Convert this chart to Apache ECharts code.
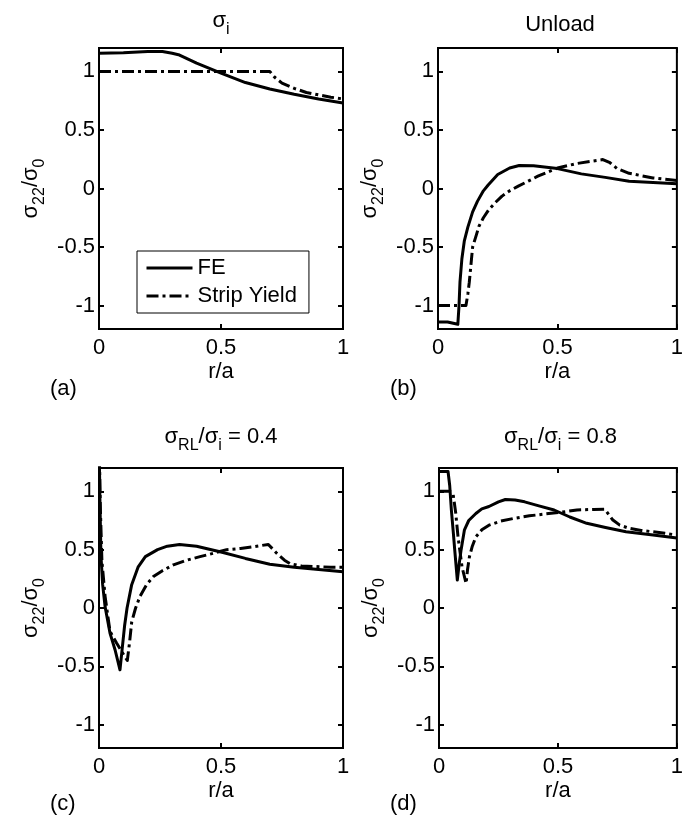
<!DOCTYPE html>
<html><head><meta charset="utf-8">
<script src="https://cdn.jsdelivr.net/npm/echarts@6/dist/echarts.min.js"></script>
<style>html,body{margin:0;padding:0;background:#fff}#c{width:686px;height:818px}</style>
</head><body><div id="c"></div>
<script>
// ---- data (r/a, sigma22/sigma0) ----
const X_TICKS = [0, 0.5, 1];
const Y_TICKS = [-1, -0.5, 0, 0.5, 1];

const A_FE_X = [0, 0.1, 0.2, 0.26, 0.3, 0.33, 0.4, 0.5, 0.6, 0.7, 0.8, 0.9, 1.0];
const A_FE_Y = [1.155, 1.16, 1.17, 1.17, 1.155, 1.14, 1.07, 0.985, 0.905, 0.85, 0.805, 0.765, 0.73];
const A_SY_X = [0, 0.7, 0.72, 0.75, 0.8, 0.85, 0.9, 0.95, 1.0];
const A_SY_Y = [1, 1, 0.95, 0.9, 0.855, 0.82, 0.8, 0.78, 0.765];

const B_FE_X = [0, 0.04, 0.083, 0.088, 0.092, 0.1, 0.11, 0.125, 0.145, 0.165, 0.19, 0.21, 0.25, 0.3, 0.34, 0.4, 0.5, 0.6, 0.7, 0.8, 0.9, 1.0];
const B_FE_Y = [-1.14, -1.14, -1.16, -1.0, -0.8, -0.6, -0.45, -0.33, -0.2, -0.11, -0.02, 0.03, 0.12, 0.175, 0.197, 0.195, 0.17, 0.125, 0.095, 0.062, 0.052, 0.04];
const B_SY_X = [0, 0.117, 0.125, 0.131, 0.138, 0.145, 0.16, 0.172, 0.19, 0.213, 0.24, 0.268, 0.3, 0.336, 0.38, 0.418, 0.5, 0.58, 0.65, 0.69, 0.72, 0.75, 0.8, 0.9, 1.0];
const B_SY_Y = [-1.0, -1.0, -0.9, -0.8, -0.65, -0.5, -0.4, -0.32, -0.25, -0.18, -0.12, -0.065, -0.02, 0.02, 0.065, 0.105, 0.175, 0.213, 0.235, 0.247, 0.22, 0.17, 0.13, 0.09, 0.068];

const C_FE_X = [0, 0.004, 0.008, 0.015, 0.025, 0.045, 0.066, 0.086, 0.095, 0.105, 0.115, 0.134, 0.16, 0.19, 0.24, 0.28, 0.33, 0.4, 0.5, 0.6, 0.7, 0.8, 0.9, 1.0];
const C_FE_Y = [1.5, 0.9, 0.45, 0.2, 0.01, -0.215, -0.36, -0.53, -0.35, -0.15, 0.0, 0.2, 0.35, 0.44, 0.5, 0.53, 0.545, 0.53, 0.48, 0.425, 0.375, 0.35, 0.33, 0.31];
const C_SY_X = [0, 0.005, 0.012, 0.025, 0.045, 0.072, 0.095, 0.116, 0.125, 0.134, 0.15, 0.168, 0.195, 0.223, 0.26, 0.305, 0.36, 0.414, 0.47, 0.523, 0.58, 0.632, 0.694, 0.728, 0.76, 0.783, 0.83, 0.89, 0.95, 1.0];
const C_SY_Y = [1.5, 0.9, 0.4, 0.1, -0.2, -0.3, -0.38, -0.45, -0.3, -0.12, 0.0, 0.1, 0.2, 0.27, 0.32, 0.37, 0.41, 0.44, 0.47, 0.5, 0.51, 0.525, 0.545, 0.47, 0.41, 0.38, 0.36, 0.355, 0.35, 0.35];

const D_FE_X = [0, 0.038, 0.045, 0.052, 0.06, 0.066, 0.077, 0.085, 0.093, 0.107, 0.125, 0.155, 0.18, 0.21, 0.25, 0.279, 0.32, 0.36, 0.42, 0.484, 0.55, 0.621, 0.7, 0.786, 0.9, 1.0];
const D_FE_Y = [1.17, 1.17, 1.05, 0.84, 0.65, 0.5, 0.24, 0.38, 0.5, 0.67, 0.75, 0.81, 0.85, 0.87, 0.91, 0.93, 0.925, 0.91, 0.875, 0.84, 0.78, 0.726, 0.69, 0.654, 0.625, 0.60];
const D_SY_X = [0, 0.03, 0.045, 0.059, 0.07, 0.08, 0.097, 0.114, 0.12, 0.128, 0.14, 0.155, 0.18, 0.21, 0.26, 0.32, 0.38, 0.443, 0.51, 0.58, 0.65, 0.697, 0.731, 0.76, 0.8, 0.85, 0.896, 0.95, 1.0];
const D_SY_Y = [1.0, 1.0, 1.0, 0.98, 0.82, 0.61, 0.35, 0.21, 0.33, 0.44, 0.53, 0.61, 0.67, 0.71, 0.745, 0.77, 0.79, 0.805, 0.82, 0.84, 0.845, 0.846, 0.754, 0.71, 0.683, 0.665, 0.654, 0.64, 0.625];

const TITLES = ['{n|σ}{s|i}', '{n|Unload}', '{n|σ}{s|RL}{n|/σ}{s|i}{n| = 0.4}', '{n|σ}{s|RL}{n|/σ}{s|i}{n| = 0.8}'];
const PANEL_LABELS = ['(a)', '(b)', '(c)', '(d)'];
const Y_NAME = '{n|σ}{s|22}{n|/σ}{s|0}';
const X_NAME = 'r/a';
const SERIES_NAMES = ['FE', 'Strip Yield'];

// ---- layout ----
const F = '"Liberation Sans", Arial, sans-serif';
const GRIDS = [
  {left: 99, top: 48, width: 244, height: 281},
  {left: 438, top: 48, width: 244, height: 281},
  {left: 99, top: 468, width: 244, height: 280},
  {left: 439, top: 468, width: 243, height: 280}
];
const TITLE_TOPS = [10, 14, 426, 426];
const LABEL_POS = [[50, 378], [390, 378], [50, 793], [390, 793]];

const rich = {
  n: {fontSize: 22, fontFamily: F, fontWeight: 'normal', color: '#000', lineHeight: 24, verticalAlign: 'top'},
  s: {fontSize: 16, fontFamily: F, fontWeight: 'normal', color: '#000', lineHeight: 16, padding: [12, 0, 0, 0], verticalAlign: 'top'}
};

function zip(xs, ys) { return xs.map((x, i) => [x, ys[i]]); }
const DATA = [[A_FE_X, A_FE_Y, A_SY_X, A_SY_Y], [B_FE_X, B_FE_Y, B_SY_X, B_SY_Y],
              [C_FE_X, C_FE_Y, C_SY_X, C_SY_Y], [D_FE_X, D_FE_Y, D_SY_X, D_SY_Y]];

const tickStyle = {show: true, inside: true, length: 5, lineStyle: {color: '#000', width: 2}};
const noLine = {show: false, onZero: false};
const grid = [], xAxis = [], yAxis = [], series = [], title = [];
GRIDS.forEach((g, i) => {
  grid.push(Object.assign({show: true, borderColor: '#000', borderWidth: 2, backgroundColor: '#fff'}, g));
  xAxis.push({type: 'value', gridIndex: i, min: 0, max: 1, interval: 0.5, position: 'bottom',
    axisLine: noLine, splitLine: {show: false},
    axisTick: tickStyle,
    axisLabel: {margin: 8, fontSize: 22, fontFamily: F, color: '#000',
      customValues: X_TICKS, formatter: v => String(v)},
    name: X_NAME, nameLocation: 'middle', nameGap: 32,
    nameTextStyle: {fontSize: 22, fontFamily: F, color: '#000'}});
  xAxis.push({type: 'value', gridIndex: i, min: 0, max: 1, interval: 0.5, position: 'top',
    axisLine: noLine, splitLine: {show: false}, axisTick: tickStyle, axisLabel: {show: false}});
  yAxis.push({type: 'value', gridIndex: i, min: -1.2, max: 1.2, position: 'left',
    axisLine: noLine, splitLine: {show: false},
    axisTick: Object.assign({customValues: Y_TICKS}, tickStyle),
    axisLabel: {margin: 4, fontSize: 22, fontFamily: F, color: '#000',
      customValues: Y_TICKS, formatter: v => String(v)},
    name: Y_NAME, nameLocation: 'middle', nameRotate: 90, nameGap: 55,
    nameTextStyle: {rich: rich}});
  yAxis.push({type: 'value', gridIndex: i, min: -1.2, max: 1.2, position: 'right',
    axisLine: noLine, splitLine: {show: false},
    axisTick: Object.assign({customValues: Y_TICKS}, tickStyle), axisLabel: {show: false}});
  const d = DATA[i];
  series.push({name: SERIES_NAMES[0], type: 'line', xAxisIndex: 2 * i, yAxisIndex: 2 * i,
    data: zip(d[0], d[1]), symbol: 'none', clip: true, animation: false,
    itemStyle: {color: '#000'},
    lineStyle: {color: '#000', width: 3, cap: 'butt', join: 'round'}});
  series.push({name: SERIES_NAMES[1], type: 'line', xAxisIndex: 2 * i, yAxisIndex: 2 * i,
    data: zip(d[2], d[3]), symbol: 'none', clip: true, animation: false,
    itemStyle: {color: '#000'},
    lineStyle: {color: '#000', width: 3, type: [12, 4, 3, 4], cap: 'butt', join: 'round'}});
  title.push({text: TITLES[i], left: g.left + g.width / 2, top: TITLE_TOPS[i], textAlign: 'center',
    padding: 0, textStyle: {fontWeight: 'normal', rich: rich}});
  title.push({text: PANEL_LABELS[i], left: LABEL_POS[i][0], top: LABEL_POS[i][1], padding: 0,
    textStyle: {fontSize: 22, fontFamily: F, color: '#000', fontWeight: 'normal'}});
});

const chart = echarts.init(document.getElementById('c'), null, {renderer: 'canvas'});
chart.setOption({
  backgroundColor: '#fff',
  animation: false,
  title: title,
  grid: grid,
  xAxis: xAxis,
  yAxis: yAxis,
  legend: {data: SERIES_NAMES, orient: 'vertical', left: 137, top: 251,
    backgroundColor: '#fff', borderColor: '#000', borderWidth: 1,
    padding: [6, 12, 6, 8], itemGap: 6, itemWidth: 46, itemHeight: 14,
    selectedMode: false,
    itemStyle: {opacity: 0},
    lineStyle: {width: 3},
    textStyle: {fontSize: 22, fontFamily: F, color: '#000'}},
  series: series
});
</script></body></html>
